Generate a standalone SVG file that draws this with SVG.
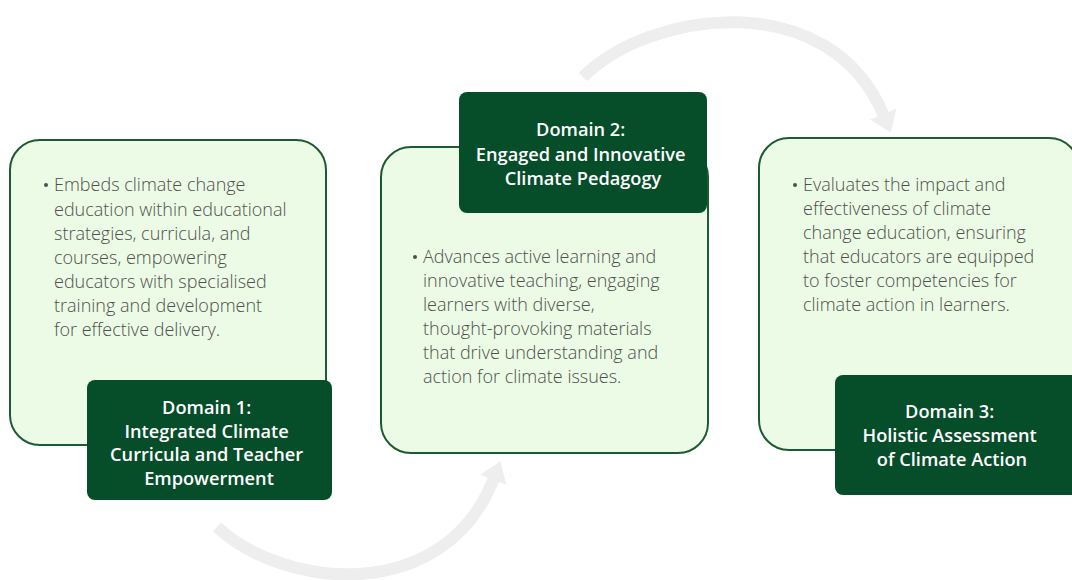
<svg xmlns="http://www.w3.org/2000/svg" width="1072" height="580" viewBox="0 0 1072 580">
  <defs>
    <marker id="head" markerUnits="userSpaceOnUse" markerWidth="24" markerHeight="32" viewBox="0 -16 24 32" refX="2" refY="0" orient="auto">
      <path d="M0,-14 L20,0 L0,14 Z" fill="#eeeeee"/>
    </marker>
    <style>
      .panel { fill: #ecfbe5; stroke: #1d5a32; stroke-width: 2; }
      .tag { fill: #064d2a; }
      .body { font-family: "Open Sans", "Noto Sans", sans-serif; font-size: 18px; font-weight: 300; fill: #4f4f4f; }
      .dot { fill: #4f4f4f; }
      .title { font-family: "Open Sans", "Noto Sans", sans-serif; font-size: 18.2px; font-weight: 600; fill: #ffffff; text-anchor: middle; }
      .flow { fill: none; stroke: #eeeeee; stroke-width: 12; }
    </style>
  </defs>

  <rect width="1072" height="580" fill="#ffffff"/>

  <!-- cycle arrows -->
  <g id="connectors">
    <path class="flow" d="M 217 527 C 285 590, 445 605, 494 478" marker-end="url(#head)"/>
    <path class="flow" d="M 583 77 C 650 10, 830 -15, 884 116" marker-end="url(#head)"/>
  </g>

  <!-- Domain 1 -->
  <g id="domain1">
    <rect class="panel" x="10" y="140" width="316" height="305" rx="30"/>
    <circle class="dot" cx="46" cy="185" r="2"/>
    <text class="body">
      <tspan x="54" y="191">Embeds climate change</tspan>
      <tspan x="54" y="216">education within educational</tspan>
      <tspan x="54" y="240">strategies, curricula, and</tspan>
      <tspan x="54" y="264">courses, empowering</tspan>
      <tspan x="54" y="288">educators with specialised</tspan>
      <tspan x="54" y="312">training and development</tspan>
      <tspan x="54" y="336">for effective delivery.</tspan>
    </text>
    <rect class="tag" x="87" y="380" width="245" height="120" rx="8"/>
    <text class="title">
      <tspan x="209" y="414">Domain 1:</tspan>
      <tspan x="209" y="438">Integrated Climate</tspan>
      <tspan x="209" y="461">Curricula and Teacher</tspan>
      <tspan x="209" y="485">Empowerment</tspan>
    </text>
  </g>

  <!-- Domain 2 -->
  <g id="domain2">
    <rect class="panel" x="381" y="147" width="327" height="306" rx="30"/>
    <rect class="tag" x="459" y="92" width="248" height="121" rx="8"/>
    <text class="title">
      <tspan x="583" y="136">Domain 2:</tspan>
      <tspan x="583" y="161">Engaged and Innovative</tspan>
      <tspan x="583" y="185">Climate Pedagogy</tspan>
    </text>
    <circle class="dot" cx="415" cy="257" r="2"/>
    <text class="body">
      <tspan x="423" y="263">Advances active learning and</tspan>
      <tspan x="423" y="287">innovative teaching, engaging</tspan>
      <tspan x="423" y="311">learners with diverse,</tspan>
      <tspan x="423" y="335">thought-provoking materials</tspan>
      <tspan x="423" y="359">that drive understanding and</tspan>
      <tspan x="423" y="383">action for climate issues.</tspan>
    </text>
  </g>

  <!-- Domain 3 -->
  <g id="domain3">
    <rect class="panel" x="759" y="138" width="320" height="312" rx="30"/>
    <circle class="dot" cx="795" cy="185" r="2"/>
    <text class="body">
      <tspan x="803" y="191">Evaluates the impact and</tspan>
      <tspan x="803" y="215">effectiveness of climate</tspan>
      <tspan x="803" y="239">change education, ensuring</tspan>
      <tspan x="803" y="263">that educators are equipped</tspan>
      <tspan x="803" y="287">to foster competencies for</tspan>
      <tspan x="803" y="311">climate action in learners.</tspan>
    </text>
    <rect class="tag" x="835" y="375" width="245" height="120" rx="8"/>
    <text class="title">
      <tspan x="952" y="418">Domain 3:</tspan>
      <tspan x="952" y="442">Holistic Assessment</tspan>
      <tspan x="952" y="466">of Climate Action</tspan>
    </text>
  </g>
</svg>
